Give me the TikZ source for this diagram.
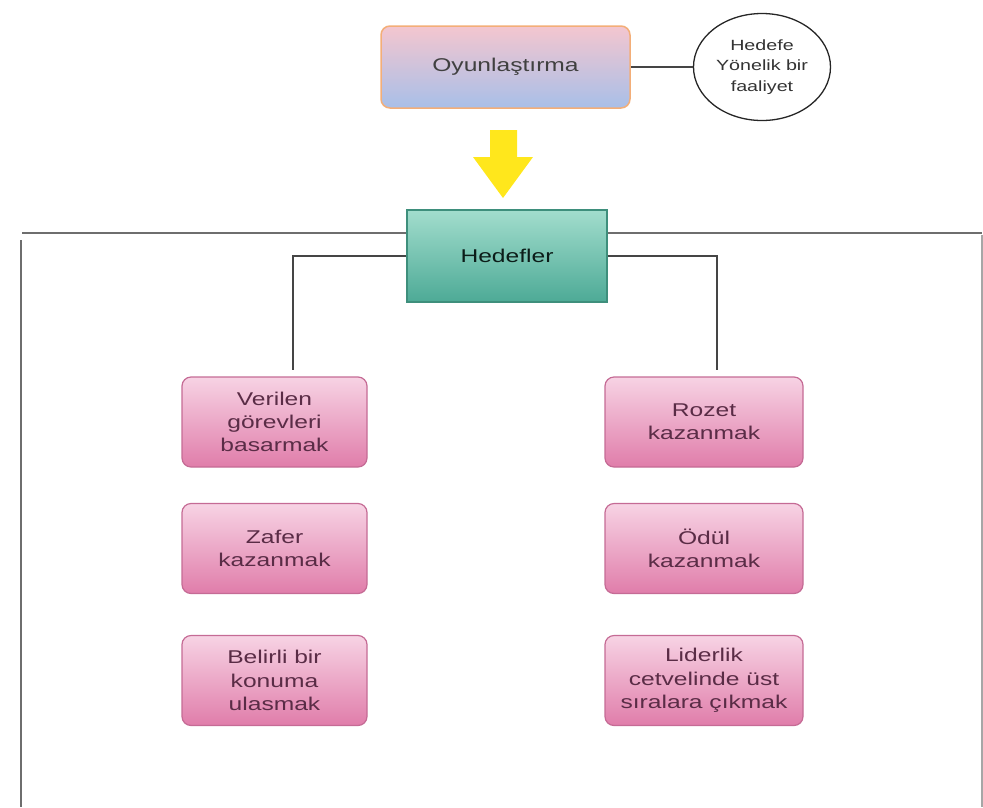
\documentclass[tikz,border=0pt]{standalone}
\usepackage{fontspec}
\setmainfont{Liberation Sans}[FakeStretch=1.33]
\usetikzlibrary{shapes.geometric}
\definecolor{oyuntop}{HTML}{F4C6CF}
\definecolor{oyunbot}{HTML}{A8BFE8}
\definecolor{oyunline}{HTML}{F3AE78}
\definecolor{hedtop}{HTML}{A2DDCD}
\definecolor{hedbot}{HTML}{4DAA96}
\definecolor{hedline}{HTML}{3E8F7C}
\definecolor{pinktop}{HTML}{F7D3E4}
\definecolor{pinkbot}{HTML}{E07DAA}
\definecolor{pinkline}{HTML}{C56B95}
\definecolor{pinktext}{HTML}{5A2C46}
\definecolor{arrowyel}{HTML}{FFE71C}
\definecolor{framegray}{HTML}{6E6E6E}
\definecolor{conngray}{HTML}{454545}
\tikzset{
  oyunbox/.style={draw=oyunline, line width=1.5pt, rounded corners=9pt,
    top color=oyuntop, bottom color=oyunbot, minimum width=249pt, minimum height=82pt,
    text=black!75, font=\fontsize{18.5}{23}\selectfont},
  hedbox/.style={draw=hedline, line width=1.2pt,
    top color=hedtop, bottom color=hedbot, minimum width=200pt, minimum height=92pt,
    text=black!80!hedline, font=\fontsize{18.5}{23}\selectfont},
  goalbox/.style={draw=pinkline, line width=1.2pt, rounded corners=9pt,
    top color=pinktop, bottom color=pinkbot, minimum height=90pt,
    text=pinktext, align=center, font=\fontsize{18.5}{23.3}\selectfont},
  leftbox/.style={goalbox, minimum width=185pt},
  rightbox/.style={goalbox, minimum width=198pt},
  oval/.style={ellipse, draw=black!85, line width=1.3pt, fill=white,
    minimum width=137pt, minimum height=107pt, inner sep=0pt,
    align=center, text=black!80, font=\fontsize{14.8}{20.5}\selectfont},
  conn/.style={draw=conngray, line width=2pt},
  frameline/.style={draw=framegray, line width=2.6pt}
}
\begin{document}
\begin{tikzpicture}[x=1pt,y=-1pt]
\useasboundingbox (0,0) rectangle (983,807);
% frame
\draw[frameline] (22,233) -- (982,233);
\draw[frameline] (21,240) -- (21,807);
\draw[draw=black!35, line width=1.6pt] (982,235) -- (982,807);
% top nodes
\node[oyunbox] (oyun) at (505.5,67) {Oyunlaştırma};
\node[oval] (hedefe) at (762,67) {Hedefe\\Yönelik bir\\faaliyet};
\draw[conn] (oyun.east) -- (hedefe.west);
% yellow arrow
\fill[arrowyel] (490,130) -- (517,130) -- (517,157) -- (533,157) -- (503,198) -- (473,157) -- (490,157) -- cycle;
% Hedefler
\node[hedbox] (hedef) at (507,256) {Hedefler};
% goals
\node[leftbox] (verilen) at (274.5,422) {Verilen\\görevleri\\basarmak};
\node[leftbox] (zafer) at (274.5,548.5) {Zafer\\kazanmak};
\node[leftbox] (belirli) at (274.5,680.5) {Belirli bir\\konuma\\ulasmak};
\node[rightbox] (rozet) at (704,422) {Rozet\\kazanmak};
\node[rightbox] (odul) at (704,548.5) {Ödül\\kazanmak};
\node[rightbox] (lider) at (704,680.5) {Liderlik\\cetvelinde üst\\sıralara çıkmak};
% connectors
\draw[conn, shorten >=6pt] (hedef.west) -| ([xshift=18.5pt]verilen.north);
\draw[conn, shorten >=6pt] (hedef.east) -| ([xshift=13pt]rozet.north);
\end{tikzpicture}
\end{document}
